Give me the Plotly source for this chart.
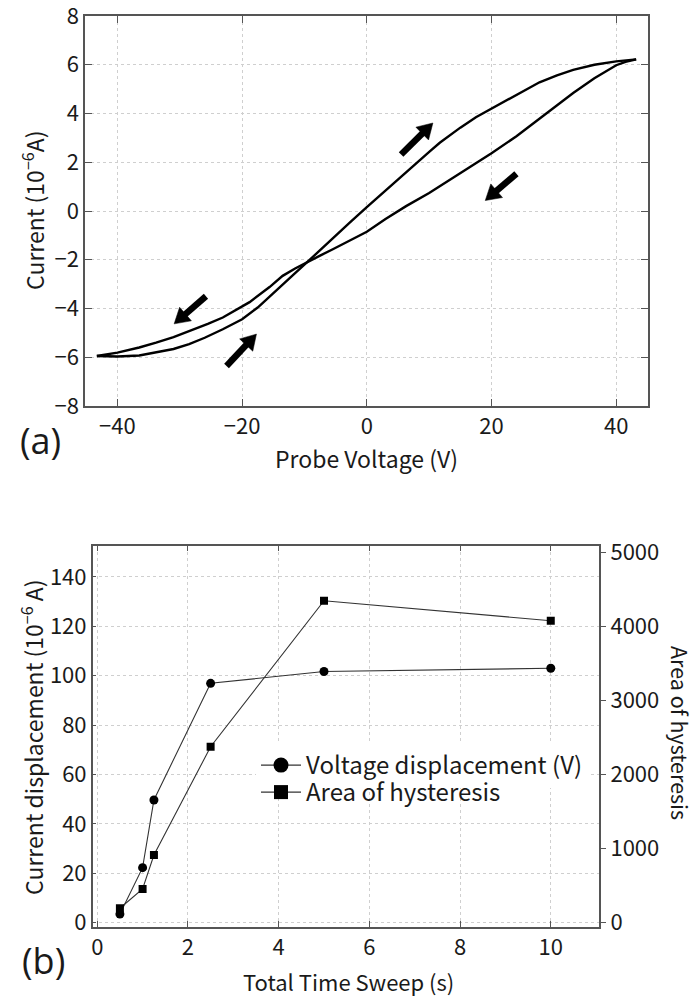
import math
import plotly.graph_objects as go

# ---- (a) hysteresis loop: probe voltage (V) vs current (1e-6 A) ----
# forward sweep, voltage rising
fwd_voltage = [-43.3, -40, -36.5, -33.8, -31, -28.5, -26, -23.1, -20, -17.5, -15.6,
               -13.5, -11.5, -9.7, -7.5, -5.45, -2.7, 0, 2.6, 5.25, 7.7, 10.1, 11.7,
               15, 17.5, 20, 24, 27.7, 30.5, 33.1, 36.5, 40, 43.2]
fwd_current = [-5.95, -5.97, -5.93, -5.81, -5.66, -5.46, -5.2, -4.85, -4.44, -3.96, -3.5,
               -3.0, -2.55, -2.13, -1.62, -1.13, -0.47, 0.16, 0.76, 1.35, 1.92, 2.45, 2.8,
               3.42, 3.85, 4.2, 4.77, 5.28, 5.56, 5.79, 6.0, 6.14, 6.22]
# reverse sweep, voltage falling
rev_voltage = [43.2, 41.5, 40, 36.5, 33.1, 30.5, 27.7, 24, 20, 16.5, 13.3, 10, 6.3, 3, 0,
               -2.7, -5.45, -7.5, -9.7, -11.5, -13.5, -15.6, -18.8, -21.5, -23.1, -25.5,
               -28.5, -31, -33.8, -36.5, -40, -43.3]
rev_current = [6.22, 6.12, 5.98, 5.45, 4.84, 4.33, 3.8, 3.07, 2.37, 1.8, 1.27, 0.74, 0.2,
               -0.33, -0.85, -1.22, -1.57, -1.83, -2.11, -2.36, -2.66, -3.12, -3.74, -4.15,
               -4.37, -4.63, -4.92, -5.17, -5.4, -5.6, -5.81, -5.95]

voltage_ticks = [-40, -20, 0, 20, 40]
current_ticks = [-8, -6, -4, -2, 0, 2, 4, 6, 8]

# ---- (b) displacement and hysteresis area vs total sweep time ----
sweep_time = [0.5, 1.0, 1.25, 2.5, 5, 10]
voltage_displacement = [3.5, 22.3, 49.7, 96.9, 101.7, 103.0]
hysteresis_area = [195, 455, 913, 2374, 4344, 4074]

time_ticks = [0, 2, 4, 6, 8, 10]
disp_ticks = [0, 20, 40, 60, 80, 100, 120, 140]
area_ticks = [0, 1000, 2000, 3000, 4000, 5000]

# sweep-direction arrows on the loop: (tail V, tail I, head V, head I)
sweep_arrows = [(5.5, 2.32, 10.6, 3.61), (24.0, 1.53, 19.0, 0.43),
                (-25.8, -3.5, -30.9, -4.63), (-22.5, -6.36, -17.7, -5.05)]

W, H = 697, 996
FONT = "Noto Sans CJK JP"
INK = "#1a1a1a"
TICK_FONT = dict(family=FONT, size=22, color=INK)
AXIS_COLOR = "#555555"
GRID = dict(showgrid=True, gridcolor="#cfcfcf", griddash="dot", gridwidth=1)

# plot-area boxes in pixels (left, right, top, bottom)
BOX_A = (85, 648, 16, 406)
BOX_B = (92.7, 599.3, 545.7, 926.7)
RANGE_AV = [-45.2, 45.1]
RANGE_AI = [-8.0, 8.0]


def px_x(p):
    return p / W


def px_y(p):
    return 1 - p / H


def minus(vals):
    return [f"{t:g}".replace("-", "\u2212") for t in vals]


fig = go.Figure()

for v, i in [(fwd_voltage, fwd_current), (rev_voltage, rev_current)]:
    fig.add_trace(go.Scatter(x=v, y=i, mode="lines", line=dict(color="#000000", width=2.4),
                             showlegend=False, xaxis="x", yaxis="y", hoverinfo="skip"))

# arrows: thick shaft plus a filled triangular head, sized in screen pixels
sx = (BOX_A[1] - BOX_A[0]) / (RANGE_AV[1] - RANGE_AV[0])
sy = (BOX_A[3] - BOX_A[2]) / (RANGE_AI[1] - RANGE_AI[0])
HEAD_LEN, HEAD_W, SHAFT_W = 15, 18, 6.5
for tv, ti, hv, hi in sweep_arrows:
    dx, dy = (hv - tv) * sx, (hi - ti) * sy
    n = math.hypot(dx, dy)
    ux, uy = dx / n, dy / n
    bx, by = hv - ux * HEAD_LEN / sx, hi - uy * HEAD_LEN / sy
    px_, py_ = -uy * HEAD_W / 2, ux * HEAD_W / 2
    fig.add_trace(go.Scatter(x=[tv, bx + ux * 2 / sx], y=[ti, by + uy * 2 / sy], mode="lines",
                             line=dict(color="#000000", width=SHAFT_W),
                             showlegend=False, xaxis="x", yaxis="y", hoverinfo="skip"))
    fig.add_trace(go.Scatter(x=[hv, bx + px_ / sx, bx - px_ / sx, hv],
                             y=[hi, by + py_ / sy, by - py_ / sy, hi],
                             mode="lines", fill="toself", fillcolor="#000000",
                             line=dict(color="#000000", width=0.5),
                             showlegend=False, xaxis="x", yaxis="y", hoverinfo="skip"))

line_style = dict(color="#333333", width=1.1)
fig.add_trace(go.Scatter(x=sweep_time, y=voltage_displacement, mode="lines+markers",
                         line=line_style, marker=dict(symbol="circle", size=9, color="#000000"),
                         showlegend=False, xaxis="x2", yaxis="y2"))
fig.add_trace(go.Scatter(x=sweep_time, y=hysteresis_area, mode="lines+markers",
                         line=line_style, marker=dict(symbol="square", size=8, color="#000000"),
                         showlegend=False, xaxis="x2", yaxis="y3"))
# legend entries with larger symbols
fig.add_trace(go.Scatter(x=[None], y=[None], mode="lines+markers", name="Voltage displacement (V)",
                         line=line_style, marker=dict(symbol="circle", size=15, color="#000000"),
                         xaxis="x2", yaxis="y2", legend="legend"))
fig.add_trace(go.Scatter(x=[None], y=[None], mode="lines+markers", name="Area of hysteresis",
                         line=line_style, marker=dict(symbol="square", size=14, color="#000000"),
                         xaxis="x2", yaxis="y2", legend="legend2"))

frame = dict(showline=True, linecolor=AXIS_COLOR, linewidth=1.5, mirror="ticks",
             ticks="inside", tickcolor=AXIS_COLOR, tickwidth=1.2, zeroline=False,
             tickfont=TICK_FONT, automargin=False, ticklabeloverflow="allow", **GRID)

annotations = []


def label(text, x, y, size=23, angle=0, family=FONT):
    annotations.append(dict(text=text, x=px_x(x), y=px_y(y), xref="paper", yref="paper",
                            showarrow=False, textangle=angle, xanchor="center", yanchor="middle",
                            font=dict(family=family, size=size, color=INK)))


label("Current (10<sup>\u22126</sup>A)", 33, 210, angle=-90)
label("Probe Voltage (V)", 367, 458)
label("(a)", 40, 441, size=36, family="Open Sans")
label("Current displacement (10<sup>\u22126</sup> A)", 32, 737, angle=-90)
label("Area of hysteresis", 681, 733, size=21.5, angle=90)
label("Total Time Sweep (s)", 348, 981, size=22)
label("(b)", 43, 960, size=36, family="Open Sans")

legend_style = dict(xanchor="left", yanchor="top", font=dict(family=FONT, size=24, color=INK),
                    itemwidth=40, borderwidth=0)

fig.update_layout(
    width=W, height=H, margin=dict(l=0, r=0, t=0, b=0),
    paper_bgcolor="white", plot_bgcolor="white",
    xaxis=dict(domain=[px_x(BOX_A[0]), px_x(BOX_A[1])], range=RANGE_AV, tickvals=voltage_ticks,
               ticktext=minus(voltage_ticks), ticklen=7, anchor="y", **frame),
    yaxis=dict(domain=[px_y(BOX_A[3]), px_y(BOX_A[2])], range=RANGE_AI, tickvals=current_ticks,
               ticktext=minus(current_ticks), ticklen=7, anchor="x", **frame),
    xaxis2=dict(domain=[px_x(BOX_B[0]), px_x(BOX_B[1])], range=[-0.1, 11.07], tickvals=time_ticks,
                ticklen=6, anchor="y2", **frame),
    yaxis2=dict(domain=[px_y(BOX_B[3]), px_y(BOX_B[2])], range=[-1.6, 152.6], tickvals=disp_ticks,
                ticklen=4, anchor="x2", showline=True, linecolor=AXIS_COLOR, linewidth=1.5,
                mirror=True, ticks="inside", tickcolor=AXIS_COLOR, tickwidth=1.2,
                zeroline=False, tickfont=TICK_FONT, automargin=False,
                ticklabeloverflow="allow", **GRID),
    yaxis3=dict(overlaying="y2", side="right", anchor="x2",
                range=[-1.6 * 100 / 3, 152.6 * 100 / 3],
                tickvals=area_ticks, ticks="outside", ticklen=5, tickcolor=AXIS_COLOR,
                tickwidth=1.2, showline=True, linecolor=AXIS_COLOR, linewidth=1.5,
                showgrid=False, zeroline=False, tickfont=TICK_FONT, automargin=False,
                ticklabeloverflow="allow"),
    legend=dict(x=px_x(256), y=px_y(743), bgcolor="white", **legend_style),
    legend2=dict(x=px_x(256), y=px_y(770), bgcolor="rgba(0,0,0,0)", **legend_style),
    annotations=annotations,
)

fig.write_html("out.html")
